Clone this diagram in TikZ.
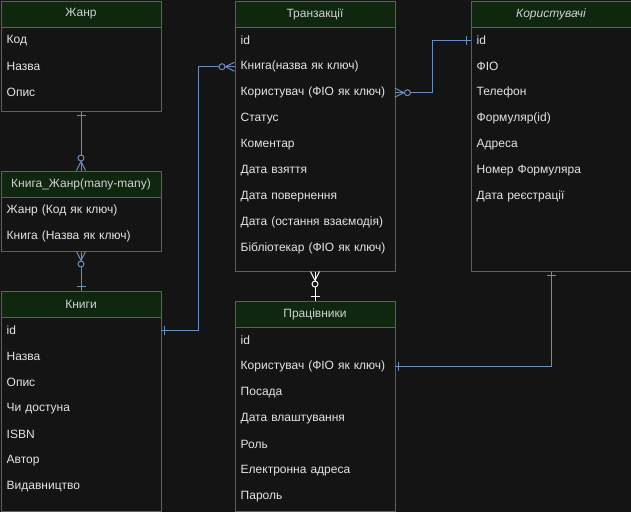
\documentclass[tikz,border=0pt]{standalone}
\usepackage{fontspec}
\setmainfont{Liberation Sans}
\usetikzlibrary{calc}
\definecolor{bg}{HTML}{141414}
\definecolor{hdr}{HTML}{0F260F}
\definecolor{brd}{HTML}{3A7D22}
\definecolor{txt}{HTML}{E4E4E4}
\definecolor{htxt}{HTML}{D2D2D2}
\definecolor{lnk}{HTML}{6C8EBF}
\tikzset{
  tbl/.style={draw=brd, fill=bg, line width=1pt, minimum width=160pt, inner sep=0pt, anchor=north west},
  hd/.style={draw=brd, fill=hdr, line width=1pt, minimum width=160pt, minimum height=26pt, inner sep=0pt, anchor=north west, text=htxt, font=\fontsize{12}{14}\selectfont},
  rw/.style={minimum width=160pt, minimum height=26pt, inner sep=0pt, anchor=north west, text=txt, text width=148pt, align=left, font=\fontsize{12}{14}\selectfont, yshift=-1pt},
  lnk/.style={draw=lnk, line width=1pt},
  wl/.style={draw=white, line width=1pt},
  tick/.pic={\draw (4,-4.5) -- (4,4.5);},
  zmany/.pic={\draw (9,0) -- (0,4.5) (9,0) -- (0,-4.5); \draw[fill=bg] (12.5,0) circle[radius=3pt];}
}
\begin{document}
\begin{tikzpicture}[x=1pt,y=-1pt]
\fill[bg] (0,0) rectangle (631,512);
\useasboundingbox (0,0) rectangle (631,512);

% Жанр
\node[tbl, minimum height=110pt] (zh) at (0.5,0.5) {};
\node[hd] (zh-h) at (0.5,0.5) {Жанр};
\node[rw] (zh-kod) at (0.5,26.5) {Код};
\node[rw] (zh-nazva) at (0.5,52.5) {Назва};
\node[rw] (zh-opys) at (0.5,78.5) {Опис};

% Книга_Жанр
\node[tbl, minimum height=80pt] (kz) at (0.5,170.5) {};
\node[hd] (kz-h) at (0.5,170.5) {Книга\_Жанр(many-many)};
\node[rw] (kz-zh) at (0.5,196.5) {Жанр (Код як ключ)};
\node[rw] (kz-kn) at (0.5,222.5) {Книга (Назва як ключ)};

% Книги
\node[tbl, minimum height=220pt] (kn) at (0.5,290.5) {};
\node[hd] (kn-h) at (0.5,290.5) {Книги};
\node[rw] (kn-id) at (0.5,316.5) {id};
\node[rw] (kn-nazva) at (0.5,342.5) {Назва};
\node[rw] (kn-opys) at (0.5,368.5) {Опис};
\node[rw] (kn-dost) at (0.5,394.5) {Чи достуна};
\node[rw] (kn-isbn) at (0.5,420.5) {ISBN};
\node[rw] (kn-avt) at (0.5,446.5) {Автор};
\node[rw] (kn-vyd) at (0.5,472.5) {Видавництво};

% Транзакції
\node[tbl, minimum height=270pt] (tr) at (234.5,0.5) {};
\node[hd] (tr-h) at (234.5,0.5) {Транзакції};
\node[rw] (tr-id) at (234.5,26.5) {id};
\node[rw] (tr-kn) at (234.5,52.5) {Книга(назва як ключ)};
\node[rw] (tr-ko) at (234.5,78.5) {Користувач (ФІО як ключ)};
\node[rw] (tr-st) at (234.5,104.5) {Статус};
\node[rw] (tr-kom) at (234.5,130.5) {Коментар};
\node[rw] (tr-dv) at (234.5,156.5) {Дата взяття};
\node[rw] (tr-dp) at (234.5,182.5) {Дата повернення};
\node[rw] (tr-do) at (234.5,208.5) {Дата (остання взаємодія)};
\node[rw] (tr-bib) at (234.5,234.5) {Бібліотекар (ФІО як ключ)};

% Користувачі
\node[tbl, minimum height=270pt] (ko) at (470.5,0.5) {};
\node[hd, font=\fontsize{12}{14}\selectfont\itshape] (ko-h) at (470.5,0.5) {Користувачі};
\node[rw] (ko-id) at (470.5,26.5) {id};
\node[rw] (ko-fio) at (470.5,52.5) {ФІО};
\node[rw] (ko-tel) at (470.5,78.5) {Телефон};
\node[rw] (ko-form) at (470.5,104.5) {Формуляр(id)};
\node[rw] (ko-adr) at (470.5,130.5) {Адреса};
\node[rw] (ko-nf) at (470.5,156.5) {Номер Формуляра};
\node[rw] (ko-dr) at (470.5,182.5) {Дата реєстрації};

% Працівники
\node[tbl, minimum height=210pt] (pr) at (234.5,300.5) {};
\node[hd] (pr-h) at (234.5,300.5) {Працівники};
\node[rw] (pr-id) at (234.5,326.5) {id};
\node[rw] (pr-ko) at (234.5,352.5) {Користувач (ФІО як ключ)};
\node[rw] (pr-pos) at (234.5,378.5) {Посада};
\node[rw] (pr-dvl) at (234.5,404.5) {Дата влаштування};
\node[rw] (pr-rol) at (234.5,430.5) {Роль};
\node[rw] (pr-el) at (234.5,456.5) {Електронна адреса};
\node[rw] (pr-par) at (234.5,482.5) {Пароль};

% connectors
\draw[lnk] (zh.south) -- (kz.north);
\pic[lnk, rotate=-90] at (zh.south) {tick};
\pic[lnk, rotate=90] at (kz.north) {zmany};

\draw[lnk] (kz.south) -- (kn.north);
\pic[lnk, rotate=-90] at (kz.south) {zmany};
\pic[lnk, rotate=90] at (kn.north) {tick};

\draw[lnk] (kn-id.east) -- ++(37.5,0) |- (tr-kn.west);
\pic[lnk] at (kn-id.east) {tick};
\pic[lnk, rotate=180] at (tr-kn.west) {zmany};

\draw[lnk] (tr-ko.east) -- ++(38,0) |- (ko-id.west);
\pic[lnk] at (tr-ko.east) {zmany};
\pic[lnk, rotate=180] at (ko-id.west) {tick};

\draw[wl] (tr.south) -- (pr.north);
\pic[wl, rotate=-90] at (tr.south) {zmany};
\pic[wl, rotate=90] at (pr.north) {tick};

\draw[lnk] (pr-ko.east) -| (ko.south);
\pic[lnk] at (pr-ko.east) {tick};
\pic[lnk, rotate=-90] at (ko.south) {tick};
\end{tikzpicture}
\end{document}
